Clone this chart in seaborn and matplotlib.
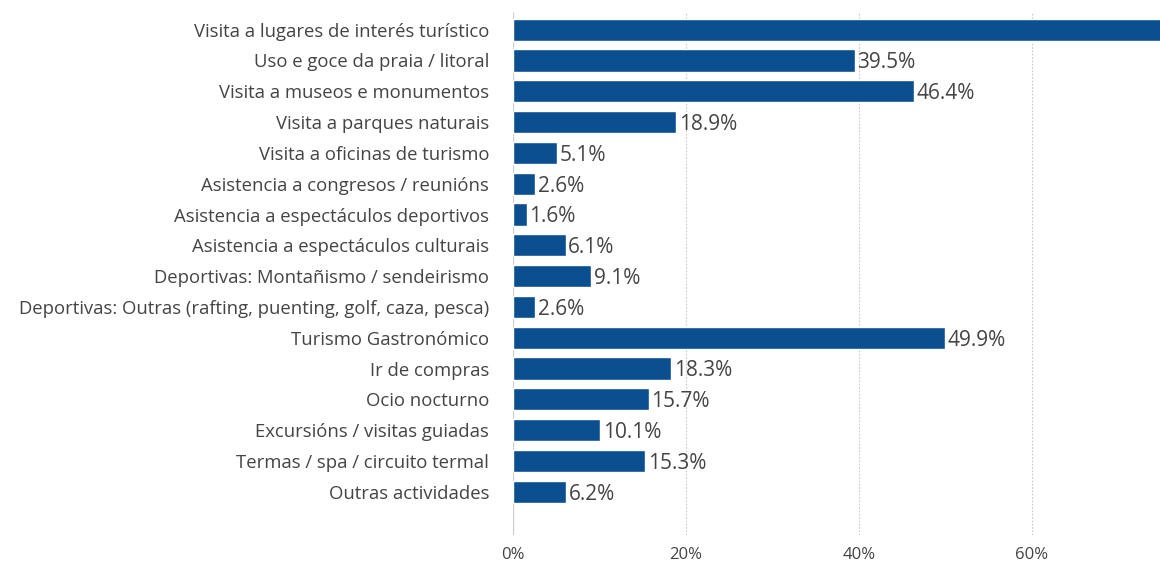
import matplotlib
matplotlib.use("Agg")
import matplotlib.pyplot as plt
import seaborn as sns
import pandas as pd

categories = [
    "Visita a lugares de interés turístico",
    "Uso e goce da praia / litoral",
    "Visita a museos e monumentos",
    "Visita a parques naturais",
    "Visita a oficinas de turismo",
    "Asistencia a congresos / reunións",
    "Asistencia a espectáculos deportivos",
    "Asistencia a espectáculos culturais",
    "Deportivas: Montañismo / sendeirismo",
    "Deportivas: Outras (rafting, puenting, golf, caza, pesca)",
    "Turismo Gastronómico",
    "Ir de compras",
    "Ocio nocturno",
    "Excursións / visitas guiadas",
    "Termas / spa / circuito termal",
    "Outras actividades",
]
values = [78.0, 39.5, 46.4, 18.9, 5.1, 2.6, 1.6, 6.1, 9.1, 2.6, 49.9, 18.3, 15.7, 10.1, 15.3, 6.2]
ticks = [0, 20, 40, 60]

df = pd.DataFrame({"actividade": categories, "pct": values})

sns.set_theme(style="white")
plt.rcParams["font.family"] = ["Open Sans", "DejaVu Sans"]

fig = plt.figure(figsize=(11.6, 5.63), dpi=100)
ax = fig.add_axes([0.442, 0.050, 0.558, 0.929])

bar_color = "#0b4f91"
sns.barplot(data=df, x="pct", y="actividade", color=bar_color, saturation=1,
            width=0.72, ax=ax, orient="h")

xmax = 74.8
ax.set_xlim(0, xmax)
ax.set_ylim(16.4, -0.58)

# value labels beside each bar (bars running past the frame carry none)
for i, v in enumerate(values):
    if v + 8 < xmax:
        ax.text(v + 0.3, i + 0.08, f"{v:.1f}%", va="center", ha="left",
                fontsize=15, color="#444444")

# vertical guides
for t in ticks:
    if t == 0:
        ax.axvline(t, color="#cfcfcf", lw=1, zorder=0)
    else:
        ax.axvline(t, color="#c8c8c8", lw=0.8, ls=(0, (1.5, 1.5)), zorder=0)

ax.set_xticks(ticks)
ax.set_xticklabels([f"{t}%" for t in ticks])
ax.tick_params(axis="x", length=0, pad=9, labelsize=12, labelcolor="#444444")
ax.tick_params(axis="y", length=0, pad=17, labelsize=13.3, labelcolor="#444444")
ax.set_xlabel("")
ax.set_ylabel("")
for s in ax.spines.values():
    s.set_visible(False)

fig.savefig("out.png", dpi=100)
